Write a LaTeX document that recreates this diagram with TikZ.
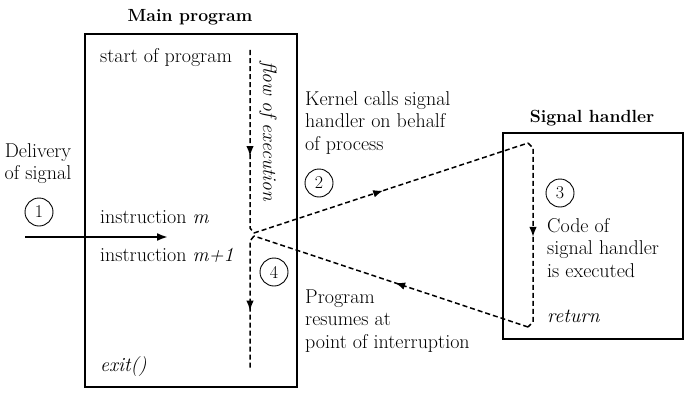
\documentclass[tikz,border=0pt]{standalone}
\usepackage{fontspec}
\usetikzlibrary{arrows.meta,decorations.markings}
\begin{document}
\begin{tikzpicture}[x=1pt,y=-1pt,
  txt/.style={font=\fontsize{20}{22.5}\selectfont, inner sep=0pt, anchor=base west, align=left},
  ctxt/.style={font=\fontsize{20}{22}\selectfont, inner sep=0pt, anchor=base, align=center},
  ttl/.style={font=\fontsize{17.6}{20}\selectfont\bfseries, inner sep=0pt, anchor=base},
  num/.style={draw, circle, minimum size=28pt, inner sep=0pt, line width=0.9pt, font=\fontsize{18}{18}\selectfont},
  box/.style={draw, line width=2.4pt, inner sep=0pt, anchor=north west},
  flow/.style={dash pattern=on 5pt off 3pt, line width=1.5pt},
  tip/.style={postaction={decorate}, decoration={markings, mark=at position #1 with {\arrow{Latex[length=10pt,width=7.5pt]}}}}
]
\useasboundingbox (0,0) rectangle (700,412);
% boxes
\node[box, minimum width=212pt, minimum height=353pt] (main) at (84,33) {};
\node[box, minimum width=180pt, minimum height=206pt] (hand) at (502,132) {};
\node[ttl] (tmain) at (190,22) {Main program};
\node[ttl] (thand) at (592,122) {Signal handler};
% texts in main
\node[txt] (start) at (100,62) {start of program};
\node[txt] (insm) at (100,223) {instruction \textit{m}};
\node[txt] (insm1) at (100,261) {instruction \textit{m+1}};
\node[txt] (exit) at (100,371) {\textit{exit()}};
\node[font=\fontsize{19.5}{22}\selectfont\itshape, rotate=-90, inner sep=0pt] (flowtxt) at (268,131) {flow of execution};
% other texts
\node[ctxt] (deliv) at (38,179) {Delivery\\of signal};
\node[txt] (kern) at (305,150) {Kernel calls signal\\handler on behalf\\of process};
\node[txt] (code) at (547,277) {Code of\\signal handler\\is executed};
\node[txt] (ret) at (547,322) {\textit{return}};
\node[txt] (prog) at (305,348) {Program\\resumes at\\point of interruption};
% numbers
\node[num] (n1) at (39,212) {1};
\node[num] (n2) at (319,183) {2};
\node[num] (n3) at (560,193) {3};
\node[num] (n4) at (274,272) {4};
% delivery arrow
\coordinate (d0) at (25,237);
\coordinate (d1) at (168,237);
\draw[line width=2pt, -{Latex[length=11pt,width=8pt]}] (d0) -- (d1);
% flow path
\coordinate (v0) at (250,50);
\coordinate (v1) at (250,228);
\coordinate (j1) at (254,233);
\coordinate (h0) at (528,143);
\coordinate (h1) at (533,148);
\coordinate (h2) at (533,322);
\coordinate (h3) at (528,327);
\coordinate (j2) at (254,236);
\coordinate (v2) at (250,241);
\coordinate (v3) at (250,368);
\draw[flow, tip=106pt] (v0) -- (v1) -- (j1);
\draw[flow, tip=136pt] (j1) -- (h0);
\draw[flow, tip=96pt] (h0) -- (h1) -- (h2) -- (h3);
\draw[flow, tip=140pt] (h3) -- (j2);
\draw[flow, tip=76pt] (j2) -- (v2) -- (v3);
\end{tikzpicture}
\end{document}
